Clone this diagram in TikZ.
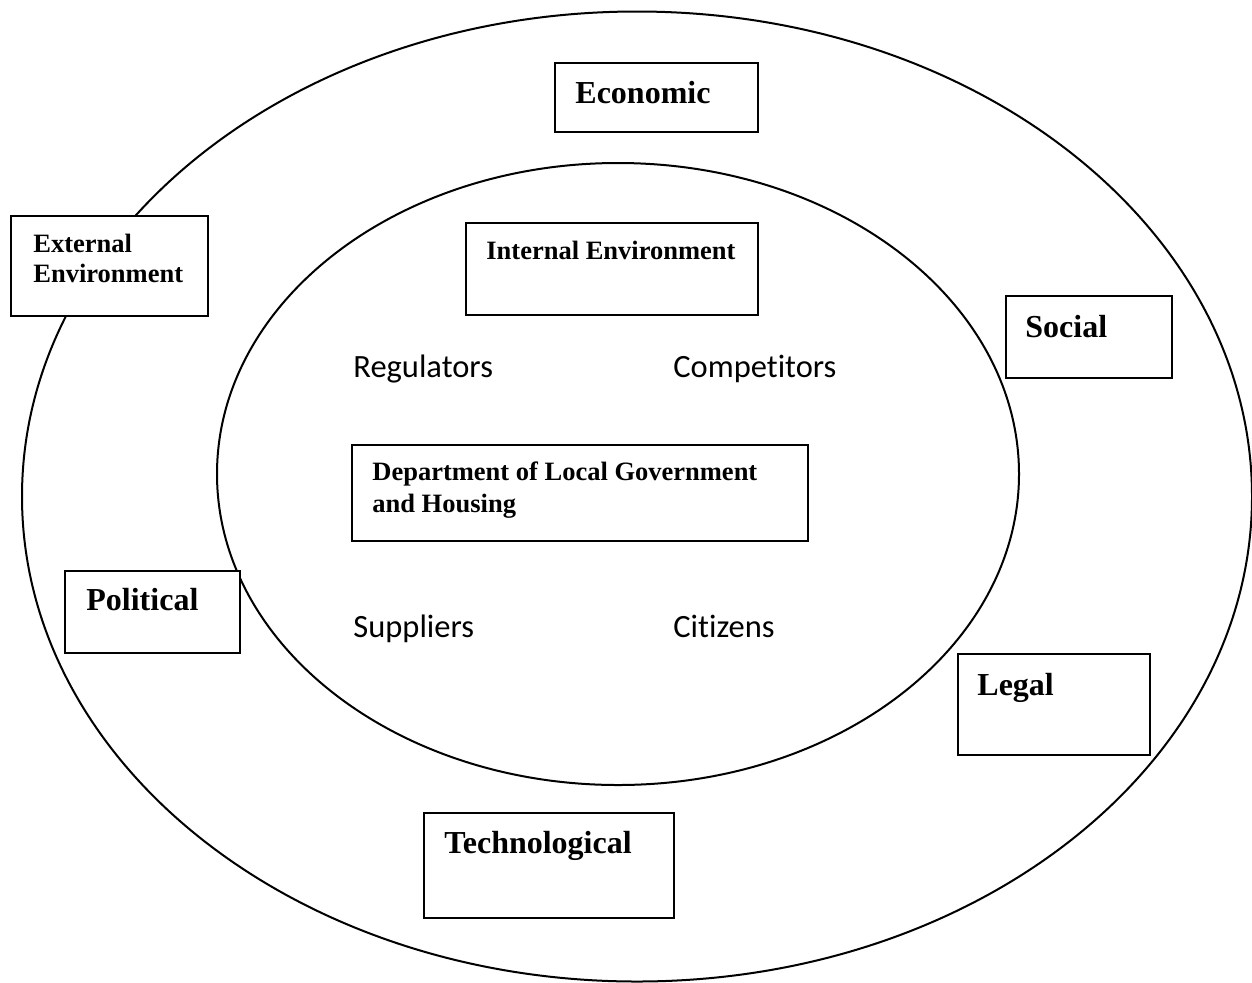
\documentclass[tikz,border=0pt]{standalone}
\usepackage{fontspec}
\setmainfont{Liberation Serif}
\newfontfamily\bodysans[RawFeature={-liga,-clig,-dlig}]{Carlito}
% keep "t" and "i" as separate glyphs
\newcommand\tisplit{t\kern0pt i}
\begin{document}
\begin{tikzpicture}[x=0.5pt,y=-0.5pt,
  ring/.style={draw=black,line width=1pt},
  box/.style={draw=black,fill=white,line width=1.1pt,inner sep=0pt,anchor=north west},
  bigbold/.style={font=\fontsize{16}{19}\selectfont\bfseries,inner sep=0pt,anchor=base west},
  smallbold/.style={font=\fontsize{13.25}{16}\selectfont\bfseries,inner sep=0pt,anchor=base west},
  actor/.style={font=\bodysans\fontsize{16.25}{19}\selectfont,inner sep=0pt,anchor=base west}]
\useasboundingbox (0,0) rectangle (1252,982);
% outer and inner environment rings
\draw[ring] (637,496.5) ellipse [x radius=307.5pt, y radius=242.5pt];
\draw[ring] (618,474) ellipse [x radius=200.5pt, y radius=155.5pt];
% labelled boxes
\node[box,minimum width=101.5pt,minimum height=34.5pt] (econbox) at (554,62) {};
\node[bigbold] (econ) at (575,103) {Economic};
\node[box,minimum width=98.5pt,minimum height=50pt] (extbox) at (10,215) {};
\node[smallbold] (ext1) at (33,252) {External};
\node[smallbold] (ext2) at (33,282) {Environment};
\node[box,minimum width=146pt,minimum height=46pt] (intbox) at (465,222) {};
\node[smallbold] (int) at (486,259) {Internal Environment};
\node[box,minimum width=83pt,minimum height=41pt] (socbox) at (1005,295) {};
\node[bigbold] (soc) at (1025,337) {Social};
\node[box,minimum width=228pt,minimum height=48pt] (deptbox) at (351,444) {};
\node[smallbold] (dept1) at (372,480) {Department of Local Government};
\node[smallbold] (dept2) at (372,512) {and Housing};
\node[box,minimum width=87.5pt,minimum height=41pt] (polbox) at (64,570) {};
\node[bigbold] (pol) at (86,610) {Political};
\node[box,minimum width=96pt,minimum height=50.5pt] (legbox) at (957,653) {};
\node[bigbold] (leg) at (977,695) {Legal};
\node[box,minimum width=125pt,minimum height=52.5pt] (techbox) at (423,812) {};
\node[bigbold] (tech) at (444,853) {Technological};
% stakeholders inside the inner ring
\node[actor] (reg) at (353,377) {Regulators};
\node[actor] (comp) at (673,377) {Compe\tisplit tors};
\node[actor] (sup) at (353,637) {Suppliers};
\node[actor] (cit) at (673,637) {Ci\tisplit zens};
\end{tikzpicture}
\end{document}
